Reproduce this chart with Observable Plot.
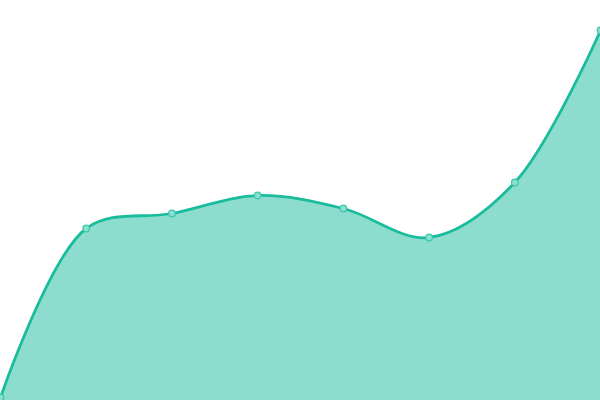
<!DOCTYPE html>
<html><head><meta charset="utf-8">
<script src="https://cdn.jsdelivr.net/npm/d3@7"></script>
<script src="https://cdn.jsdelivr.net/npm/@observablehq/plot@0.6"></script>
<style>html,body{margin:0;padding:0;background:#fff;overflow:hidden}</style>
</head><body><div id="chart"></div>
<script>
const xs = [0, 1, 2, 3, 4, 5, 6, 7];
const values = [3, 172, 187, 205, 192, 163, 218, 370];
const data = xs.map((x, i) => ({x, y: values[i]}));
const chart = Plot.plot({
  width: 600, height: 400,
  margin: 0,
  x: {domain: [0, 7], axis: null},
  y: {domain: [0, 400], axis: null},
  marks: [
    Plot.areaY(data, {x: "x", y: "y", curve: "catmull-rom", fill: "#1abc9c", fillOpacity: 0.5}),
    Plot.lineY(data, {x: "x", y: "y", curve: "catmull-rom", stroke: "#1abc9c", strokeWidth: 2.8}),
    Plot.dot(data, {x: "x", y: "y", r: 3.3, fill: "#8ae0d0", stroke: "#3cc7ab", strokeWidth: 1.2})
  ]
});
document.getElementById("chart").appendChild(chart);
</script></body></html>
